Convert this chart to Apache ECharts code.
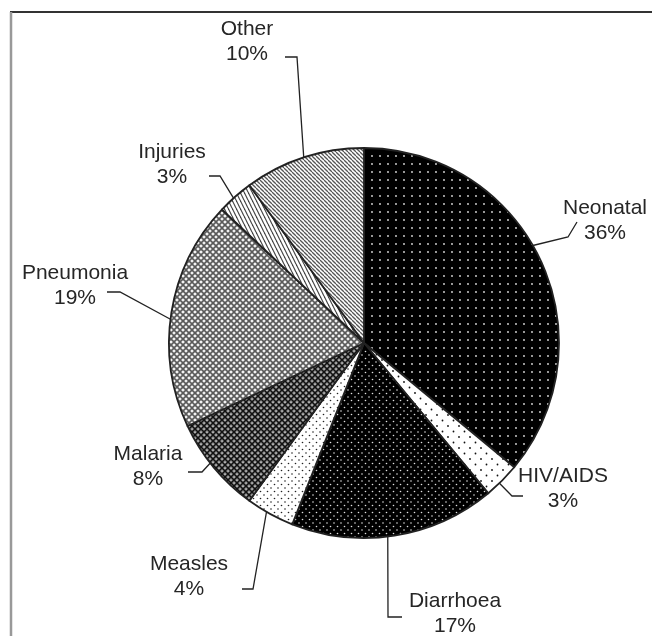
<!DOCTYPE html>
<html>
<head>
<meta charset="utf-8">
<script src="https://cdn.jsdelivr.net/npm/echarts@6/dist/echarts.min.js"></script>
<style>
  html, body { margin: 0; padding: 0; background: #fff; }
  #chart { width: 652px; height: 636px; }
</style>
</head>
<body>
<div id="chart"></div>
<script>
// causes of death, share in percent (clockwise from 12 o'clock)
const causes = ['Neonatal', 'HIV/AIDS', 'Diarrhoea', 'Measles', 'Malaria', 'Pneumonia', 'Injuries', 'Other'];
const shares = [36, 3, 17, 4, 8, 19, 3, 10];

// pie geometry
const CX = 364, CY = 343, R = 195;

// where each label sits and how its leader bends
// ang = where the leader touches the rim (deg clockwise from top)
const labelSpots = {
  'Neonatal':  { x: 605, y: 221, ang: 60,  elbow: [568, 237], end: [577, 222] },
  'HIV/AIDS':  { x: 563, y: 489, ang: 136, elbow: [512, 496], end: [523, 496] },
  'Diarrhoea': { x: 455, y: 614, ang: 173, elbow: [388, 617], end: [402, 617] },
  'Measles':   { x: 189, y: 577, ang: 210, elbow: [253, 589], end: [242, 589] },
  'Malaria':   { x: 148, y: 467, ang: 232, elbow: [202, 472], end: [188, 472] },
  'Pneumonia': { x: 75,  y: 286, ang: 277, elbow: [120, 292], end: [107, 292] },
  'Injuries':  { x: 172, y: 165, ang: 318, elbow: [220, 176], end: [209, 176] },
  'Other':     { x: 247, y: 42,  ang: 342, elbow: [297, 57],  end: [285, 57] }
};

function tile(w, h, bg, draw) {
  const c = document.createElement('canvas');
  c.width = w; c.height = h;
  const ctx = c.getContext('2d');
  ctx.fillStyle = bg;
  ctx.fillRect(0, 0, w, h);
  draw(ctx);
  return { image: c, repeat: 'repeat' };
}
function dots(ctx, pts, col, r) {
  ctx.fillStyle = col;
  pts.forEach(p => { ctx.beginPath(); ctx.arc(p[0], p[1], r, 0, Math.PI * 2); ctx.fill(); });
}
function lines(ctx, segs, col, w) {
  ctx.strokeStyle = col;
  ctx.lineWidth = w;
  segs.forEach(s => { ctx.beginPath(); ctx.moveTo(s[0], s[1]); ctx.lineTo(s[2], s[3]); ctx.stroke(); });
}

const fills = {
  'Neonatal': tile(8, 8, '#000', ctx => dots(ctx, [[4, 4]], '#e0e0e0', 0.9)),
  'HIV/AIDS': tile(11, 11, '#fff', ctx => dots(ctx, [[2.5, 2.5], [8, 8]], '#111', 0.9)),
  'Diarrhoea': tile(7, 7, '#000', ctx => dots(ctx, [[1.5, 1.5], [5, 5]], '#e0e0e0', 0.8)),
  'Measles': tile(7, 7, '#fff', ctx => dots(ctx, [[1.5, 1.5], [5, 5]], '#222', 0.8)),
  'Malaria': tile(6, 6, '#808080', ctx => {
    lines(ctx, [[0, 0, 6, 6], [6, 0, 0, 6]], '#111', 1.4);
    dots(ctx, [[3, 0.2], [0.2, 3], [6, 3], [3, 6]], '#eee', 0.6);
  }),
  'Pneumonia': tile(6, 6, '#f4f4f4', ctx => {
    lines(ctx, [[0, 0, 6, 6], [6, 0, 0, 6]], '#5a5a5a', 1.6);
  }),
  'Injuries': tile(4, 8, '#fff', ctx => {
    lines(ctx, [[0, 0, 4, 8], [-4, 0, 0, 8], [4, 0, 8, 8]], '#444', 1.2);
  }),
  'Other': tile(4, 4, '#fff', ctx => {
    lines(ctx, [[0, 0, 4, 4], [-4, 0, 0, 4], [4, 0, 8, 4]], '#555', 1.3);
  })
};

const chart = echarts.init(document.getElementById('chart'));

chart.setOption({
  animation: false,
  backgroundColor: '#fff',
  graphic: [
    { type: 'line', shape: { x1: 10, y1: 12, x2: 652, y2: 12 }, style: { stroke: '#333', lineWidth: 2 } },
    { type: 'line', shape: { x1: 11, y1: 12, x2: 11, y2: 636 }, style: { stroke: '#999', lineWidth: 2.5 } }
  ],
  series: [{
    type: 'pie',
    center: [CX, CY],
    radius: R,
    startAngle: 90,
    clockwise: true,
    avoidLabelOverlap: false,
    emphasis: { disabled: true },
    itemStyle: { borderColor: '#222', borderWidth: 1.8 },
    label: {
      show: true,
      formatter: p => p.name + '\n' + p.value + '%',
      fontFamily: 'Liberation Sans, Arial, sans-serif',
      fontSize: 21,
      lineHeight: 25,
      color: '#262626',
      align: 'center'
    },
    labelLine: {
      show: true,
      length: 20,
      length2: 10,
      lineStyle: { color: '#222', width: 1.3 }
    },
    labelLayout: p => {
      const s = labelSpots[causes[p.dataIndex]];
      const a = s.ang * Math.PI / 180;
      const rim = [CX + R * Math.sin(a), CY - R * Math.cos(a)];
      return {
        x: s.x,
        y: s.y,
        align: 'center',
        verticalAlign: 'middle',
        labelLinePoints: [rim, s.elbow, s.end]
      };
    },
    data: causes.map((c, i) => ({
      name: c,
      value: shares[i],
      itemStyle: { color: fills[c] }
    }))
  }]
});
</script>
</body>
</html>
